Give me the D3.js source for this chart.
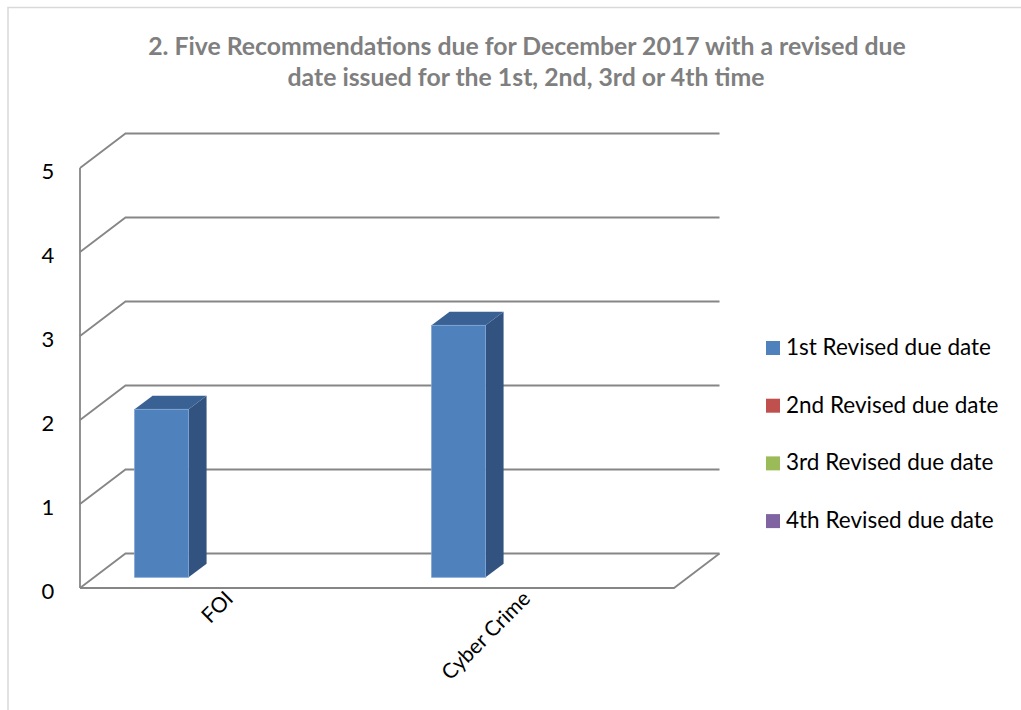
<!DOCTYPE html>
<html><head><meta charset="utf-8">
<script src="https://cdn.jsdelivr.net/npm/d3@7"></script>
<style>body{margin:0;background:#fff}svg{display:block}text{font-family:Lato,"Open Sans",sans-serif}</style>
</head><body><svg id="c" width="1021" height="710"></svg>
<script>
const titleLines = ["2. Five Recommendations due for December 2017 with a revised due", "date issued for the 1st, 2nd, 3rd or 4th time"];
const categories = ["FOI", "Cyber Crime"];
const seriesNames = ["1st Revised due date", "2nd Revised due date", "3rd Revised due date", "4th Revised due date"];
const series1 = [2, 3];
const series2 = [0, 0];
const series3 = [0, 0];
const series4 = [0, 0];
const yTicks = [0, 1, 2, 3, 4, 5];
const colors = ["#4F81BD", "#C0504D", "#9BBB59", "#8064A2"];

const allSeries = [series1, series2, series3, series4];
const svg = d3.select("#c");

// frame
svg.append("rect").attr("x", 8).attr("y", 7.5).attr("width", 1030).attr("height", 720)
  .attr("fill", "#fff").attr("stroke", "#d9d9d9").attr("stroke-width", 1.5);

function fit(sel, target) {
  const w = sel.node().getComputedTextLength();
  const fs = parseFloat(sel.attr("font-size"));
  sel.attr("font-size", fs * target / w);
}

// title
const t1 = svg.append("text").attr("x", 527).attr("y", 55).attr("text-anchor", "middle")
  .attr("font-size", 19).attr("font-weight", "bold").attr("fill", "#7f7f7f").text(titleLines[0]);
fit(t1, 758);
svg.append("text").attr("x", 526).attr("y", 86).attr("text-anchor", "middle")
  .attr("font-size", t1.attr("font-size")).attr("font-weight", "bold").attr("fill", "#7f7f7f").text(titleLines[1]);

// scales (front plane)
const y = d3.scaleLinear().domain([0, 5]).range([588, 168]);
const x = d3.scaleBand().domain(categories).range([80, 674]);
const xs = d3.scaleBand().domain(seriesNames).range([0, x.bandwidth()]).paddingInner(0).paddingOuter(0.75);
const DX = 45.5, DY = -34.5;
const f1 = 0.31, f2 = 0.705;

const grid = svg.append("g").attr("stroke", "#868686").attr("stroke-width", 1.8).attr("fill", "none");
yTicks.forEach(v => {
  const yy = y(v);
  grid.append("path").attr("d", `M${80},${yy}L${80 + DX},${yy + DY}L${674 + DX},${yy + DY}`);
});
grid.append("path").attr("d", `M80,${y(5)}L80,${y(0)}`);
grid.append("path").attr("d", `M80,${y(0)}L674,${y(0)}L${674 + DX},${y(0) + DY}`);

// y labels
svg.append("g").selectAll("text").data(yTicks).join("text")
  .attr("x", 48).attr("y", d => y(d) + 11).attr("text-anchor", "middle")
  .attr("font-size", 22).attr("fill", "#000").text(d => d);

// bars
const bars = svg.append("g");
categories.forEach((cat, ci) => {
  seriesNames.forEach((sn, si) => {
    const v = allSeries[si][ci];
    if (!v) return;
    const x0 = x(cat) + xs(sn) + f1 * DX, x1 = x0 + xs.bandwidth();
    const yb = y(0) + f1 * DY, yt = y(v) + f1 * DY;
    const ox = (f2 - f1) * DX, oy = (f2 - f1) * DY;
    const g = bars.append("g");
    g.append("path").attr("d", `M${x1},${yt}L${x1 + ox},${yt + oy}L${x1 + ox},${yb + oy}L${x1},${yb}Z`)
      .attr("fill", "#325380");
    g.append("path").attr("d", `M${x0},${yt}L${x0 + ox},${yt + oy}L${x1 + ox},${yt + oy}L${x1},${yt}Z`)
      .attr("fill", "#3a6194");
    g.append("rect").attr("x", x0).attr("y", yt).attr("width", x1 - x0).attr("height", yb - yt)
      .attr("fill", colors[si]).attr("stroke", "#7fa3d3").attr("stroke-width", 0.8);
  });
});

// x labels
const xl = svg.append("g").selectAll("text").data(categories).join("text")
  .attr("text-anchor", "end").attr("font-size", 17).attr("fill", "#000")
  .attr("transform", d => `translate(${x(d) + x.bandwidth() / 2 + 6},${600}) rotate(-45)`)
  .text(d => d);
{
  const n = xl.filter(d => d === "Cyber Crime");
  const w = n.node().getComputedTextLength();
  xl.attr("font-size", 17 * 115 / w);
}

// legend
const leg = svg.append("g").selectAll("g").data(seriesNames).join("g")
  .attr("transform", (d, i) => `translate(766,${348 + i * 57.7})`);
leg.append("rect").attr("x", 0).attr("y", -7).attr("width", 14).attr("height", 14)
  .attr("fill", (d, i) => colors[i]);
const lt = leg.append("text").attr("x", 20).attr("y", 7).attr("font-size", 20).attr("fill", "#000").text(d => d);
{
  const w = lt.nodes()[0].getComputedTextLength();
  lt.attr("font-size", 20 * 205 / w);
}
</script></body></html>
